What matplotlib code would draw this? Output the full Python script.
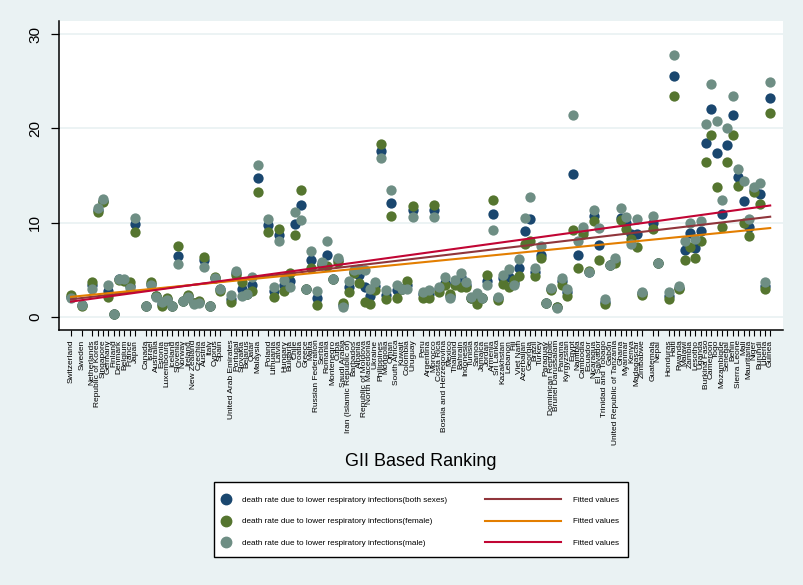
import numpy as np
import matplotlib
matplotlib.use("Agg")
import matplotlib.pyplot as plt
from matplotlib.lines import Line2D
from matplotlib.patches import Rectangle

plt.rcParams['font.family'] = ['Liberation Sans', 'DejaVu Sans']

countries = [
    "Switzerland", "Sweden", "Netherlands", "Republic of Korea", "Singapore", "Germany",
    "Finland", "Denmark", "Belgium", "France", "Japan",
    "Canada", "Israel", "Australia", "Estonia", "Luxembourg", "Iceland", "Slovenia",
    "Norway", "Ireland", "New Zealand", "Czechia", "Austria", "Italy", "Cyprus", "Spain",
    "United Arab Emirates", "Portugal", "Slovakia", "Belarus", "Qatar", "Malaysia",
    "Poland", "Lithuania", "Latvia", "Hungary", "Bulgaria", "Chile", "Croatia", "Greece",
    "Malta", "Russian Federation", "Serbia", "Romania", "Montenegro", "Cuba", "Saudi Arabia",
    "Iran (Islamic Republic of)", "Barbados", "Albania", "Republic of Moldova",
    "North Macedonia", "Ukraine", "Philippines", "Mongolia", "Oman", "South Africa",
    "Kuwait", "Colombia", "Uruguay",
    "Peru", "Argentina", "Morocco", "Costa Rica", "Bosnia and Herzegovina", "Mexico",
    "Thailand", "Bahrain", "Indonesia", "Tunisia", "Samoa", "Jamaica", "Jordan", "Armenia",
    "Sri Lanka", "Kazakhstan", "Lebanon", "Fiji", "Viet Nam", "Azerbaijan", "Georgia",
    "Brazil", "Turkey", "Paraguay", "Dominican Republic", "Brunei Darussalam", "Panama",
    "Kyrgyzstan", "Egypt", "Namibia", "Cambodia", "Ecuador", "Nicaragua", "El Salvador",
    "Trinidad and Tobago", "Gabon", "United Republic of Tanzania", "Ghana", "Myanmar",
    "Kenya", "Madagascar", "Zimbabwe",
    "Guatemala", "Nepal",
    "Honduras", "Haiti", "Rwanda", "Malawi", "Zambia", "Lesotho", "Uganda", "Burkina Faso",
    "Cameroon", "Togo", "Mozambique", "Senegal", "Benin", "Sierra Leone", "Mali",
    "Mauritania", "Niger", "Burundi", "Liberia", "Guinea",
]

gii_rank = (
    [1, 3, 5, 6, 7, 8, 9, 10, 11, 12, 13]
    + list(range(15, 30))
    + list(range(31, 37))
    + list(range(38, 66))
    + list(range(67, 109))
    + [110, 111]
    + list(range(113, 133))
)

both_sexes = [
    2.1, 1.3, 3.4, 11.3, 12.3, 2.7, 0.3, 4.0, 3.9, 3.3, 9.8,
    1.1, 3.5, 2.2, 1.4, 1.9, 1.2, 6.5, 1.7, 2.2, 1.5, 1.6, 6.0, 1.2, 4.1, 2.9,
    1.9, 4.6, 2.9, 2.4, 3.4, 14.7,
    9.7, 2.7, 8.7, 3.4, 3.8, 9.8, 11.9, 2.9, 6.0, 2.0, 5.6, 6.6, 4.0, 6.0, 1.3, 3.2,
    4.8, 4.4, 3.2, 2.25, 3.3, 17.6, 2.3, 12.1, 2.8, 3.0, 3.4, 11.3,
    2.4, 2.4, 11.3, 2.9, 3.55, 2.2, 3.6, 4.25, 3.4, 2.0, 2.0, 2.0, 3.8, 10.9,
    2.0, 4.07, 4.2, 3.6, 5.2, 9.06, 10.4, 4.8, 6.6, 1.44, 3.0, 1.0, 3.8, 2.6,
    15.2, 6.6, 9.1, 4.8, 10.75, 7.6, 1.6, 5.5, 5.9, 10.5, 10.0, 8.8, 8.8, 2.5,
    10.0, 5.76,
    2.25, 25.6, 3.1, 7.06, 8.9, 7.3, 9.06, 18.5, 22.1, 17.35, 10.9, 18.2, 21.4,
    14.8, 12.3, 9.5, 13.5, 13.0, 3.3, 23.25,
]

female = [
    2.3, 1.2, 3.7, 11.1, 12.2, 2.1, 0.3, 3.9, 3.8, 3.7, 9.0,
    1.1, 3.7, 2.2, 1.2, 2.0, 1.2, 7.5, 1.7, 2.3, 1.5, 1.7, 6.4, 1.2, 4.2, 2.7,
    1.6, 4.4, 3.7, 2.4, 2.7, 13.3,
    9.0, 2.1, 9.3, 2.7, 4.6, 8.7, 13.45, 2.9, 5.2, 1.3, 5.5, 5.4, 4.0, 5.8, 1.5, 2.6,
    4.6, 3.55, 1.6, 1.33, 2.85, 18.3, 1.9, 10.7, 2.0, 3.0, 3.8, 11.8,
    2.0, 2.0, 11.9, 2.67, 3.4, 2.4, 3.37, 3.2, 3.2, 1.97, 1.33, 2.0, 4.4, 12.4,
    1.8, 3.44, 3.2, 3.9, 4.36, 7.76, 8.1, 4.36, 6.2, 1.44, 2.85, 1.0, 3.37, 2.25,
    9.2, 5.2, 8.8, 4.9, 10.2, 6.0, 1.33, 5.5, 5.76, 10.3, 9.3, 8.3, 7.4, 2.3,
    9.27, 5.76,
    1.9, 23.4, 2.95, 6.0, 7.4, 6.25, 8.1, 16.4, 19.3, 13.8, 9.5, 16.4, 19.3,
    13.9, 10.0, 8.6, 13.2, 12.0, 3.0, 21.6,
]

male = [
    2.0, 1.3, 3.0, 11.5, 12.5, 3.4, 0.3, 4.0, 4.0, 3.1, 10.5,
    1.1, 3.4, 2.1, 1.6, 1.8, 1.2, 5.6, 1.7, 2.1, 1.4, 1.5, 5.3, 1.2, 4.1, 2.9,
    2.3, 4.85, 2.2, 2.4, 4.25, 16.1,
    10.4, 3.2, 8.1, 3.9, 3.2, 11.1, 10.3, 2.95, 6.95, 2.7, 5.8, 8.0, 4.0, 6.2, 1.0, 3.8,
    5.0, 5.06, 5.0, 3.0, 3.7, 16.9, 2.85, 13.45, 3.4, 3.0, 3.0, 10.6,
    2.67, 2.85, 10.6, 3.2, 4.2, 2.0, 3.9, 4.7, 3.72, 2.14, 2.5, 2.0, 3.37, 9.2,
    2.14, 4.4, 5.1, 3.37, 6.1, 10.5, 12.7, 5.13, 7.5, 1.44, 3.1, 0.98, 4.14, 3.0,
    21.4, 8.1, 9.5, 4.8, 11.3, 9.45, 1.85, 5.55, 6.2, 11.5, 10.6, 7.76, 10.4, 2.67,
    10.75, 5.76,
    2.67, 27.8, 3.3, 8.1, 10.0, 8.3, 10.2, 20.5, 24.7, 20.8, 12.4, 20.05, 23.4,
    15.7, 14.4, 10.4, 13.8, 14.2, 3.65, 24.9,
]

series_labels = [
    "death rate due to lower respiratory infections(both sexes)",
    "death rate due to lower respiratory infections(female)",
    "death rate due to lower respiratory infections(male)",
]
point_colors = ["#1a476f", "#55752f", "#6e8e84"]
line_colors = ["#90353b", "#e37e00", "#c10534"]

x = np.array(gii_rank, dtype=float)
data = [np.array(both_sexes), np.array(female), np.array(male)]

fig = plt.figure(figsize=(8.04, 5.85), dpi=100, facecolor="#eaf2f3")
ax = fig.add_axes([59 / 804, 1 - 330 / 585, (783 - 59) / 804, (330 - 21) / 585])
ax.set_facecolor("white")

for y in [0, 10, 20, 30]:
    ax.axhline(y, color="#eaf2f3", lw=1.3, zorder=0)

for vals, c in zip(data, point_colors):
    ax.scatter(x, vals, s=55, color=c, linewidths=0, zorder=2)

# linear fits, like Stata's lfit
xs = np.array([x.min(), x.max()])
for vals, c in zip(data, line_colors):
    k, b = np.polyfit(x, vals, 1)
    ax.plot(xs, k * xs + b, color=c, lw=1.5, zorder=3)

ax.set_xlim(-1.25, 134.4)
ax.set_ylim(-1.4, 31.4)
ax.set_yticks([0, 10, 20, 30])
ax.tick_params(axis="y", labelsize=11, length=6, width=0.9, pad=6, labelrotation=90)
for lab in ax.get_yticklabels():
    lab.set_va("center")
ax.set_xticks(x)
ax.set_xticklabels(countries, rotation=90, fontsize=6)
ax.tick_params(axis="x", length=4, width=0.8, pad=3)

for side in ["top", "right"]:
    ax.spines[side].set_visible(False)
for side in ["left", "bottom"]:
    ax.spines[side].set_linewidth(1.1)

ax.set_xlabel("GII Based Ranking", fontsize=13)
ax.xaxis.set_label_coords(0.5, (330 - 453) / 309)

# legend box with two columns
fig.add_artist(Rectangle((214 / 804, 28 / 585), (628 - 214) / 804, 75 / 585,
                         transform=fig.transFigure, facecolor="white",
                         edgecolor="black", lw=1, zorder=0.5))
pt_handles = [Line2D([], [], ls="none", marker="o", ms=7.5, mfc=c, mec=c) for c in point_colors]
ln_handles = [Line2D([], [], color=c, lw=1.5) for c in line_colors]
top = (585 - 496) / 585
fig.legend(pt_handles, series_labels, loc="upper left", bbox_to_anchor=(220.5 / 804, top),
           frameon=False, fontsize=5.9, handlelength=1.3, handletextpad=1.3,
           labelspacing=1.7, borderpad=0, borderaxespad=0)
fig.legend(ln_handles, ["Fitted values"] * 3, loc="upper left", bbox_to_anchor=(485 / 804, top),
           frameon=False, fontsize=5.9, handlelength=9.3, handletextpad=1.45,
           labelspacing=1.7, borderpad=0, borderaxespad=0)

fig.savefig("out.png", dpi=100, facecolor=fig.get_facecolor())
